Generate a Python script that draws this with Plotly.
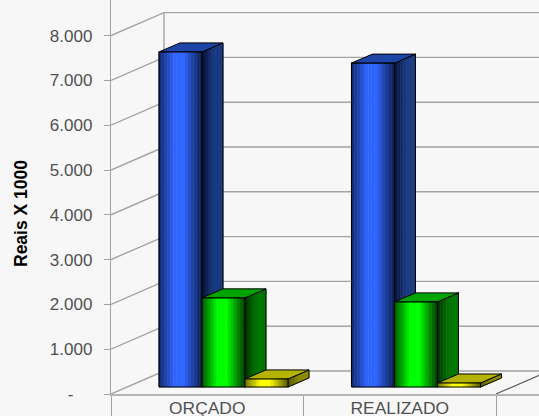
import plotly.graph_objects as go

categories = ["ORÇADO", "REALIZADO"]
series_blue = [7480, 7230]
series_green = [1990, 1900]
series_yellow = [180, 90]
y_ticks = [0, 1000, 2000, 3000, 4000, 5000, 6000, 7000, 8000]
y_labels = ["-\u00a0\u00a0\u00a0\u00a0", "1.000", "2.000", "3.000", "4.000", "5.000", "6.000", "7.000", "8.000"]

PX_X = 192.5      # px per category
PX_Y = 0.0448     # px per unit
XMAX = 428 / PX_X
WALL_DX, WALL_DY = 53 / PX_X, 23 / PX_Y
BAR_DX, BAR_DY = 21 / PX_X, 9 / PX_Y
BAR_W = 43 / PX_X
BAR_OFF = 48 / PX_X
FLOOR = 7 / PX_Y
GRID = "#a3a3a3"

STYLES = [
    dict(values=series_blue, edge=(10, 30, 80), mid=(48, 100, 255), top="#1d45a8",
         side_a=(6, 16, 50), side_b=(26, 58, 130)),
    dict(values=series_green, edge=(0, 60, 0), mid=(0, 255, 0), top="#00a400",
         side_a=(0, 50, 0), side_b=(0, 118, 0)),
    dict(values=series_yellow, edge=(90, 90, 0), mid=(255, 255, 0), top="#b4b400",
         side_a=(90, 90, 0), side_b=(140, 140, 0)),
]


def mix(a, b, t):
    return "rgb(%d,%d,%d)" % tuple(round(a[i] + (b[i] - a[i]) * t) for i in range(3))


fig = go.Figure()


def poly(xs, ys, fill, line=None, lw=1.0):
    fig.add_trace(go.Scatter(
        x=xs, y=ys, mode="lines", fill="toself", fillcolor=fill,
        line=dict(color=line or fill, width=lw if line else 0.6),
        hoverinfo="skip", showlegend=False))


def line(xs, ys, color=GRID, width=1.4):
    fig.add_trace(go.Scatter(x=xs, y=ys, mode="lines", line=dict(color=color, width=width),
                             hoverinfo="skip", showlegend=False))


# walls
for v in y_ticks:
    line([0, WALL_DX, XMAX], [v, v + WALL_DY, v + WALL_DY])
line([WALL_DX, WALL_DX], [WALL_DY, y_ticks[-1] + WALL_DY])
line([len(categories), len(categories) + WALL_DX], [0, WALL_DY], "#555555", 1.1)

# bars
STEPS = 15
SIDE_STEPS = 7
for c in range(len(categories)):
    for s, st in enumerate(STYLES):
        v = st["values"][c]
        x0 = c + BAR_OFF + s * BAR_W
        x1 = x0 + BAR_W
        y0, y1 = FLOOR, FLOOR + v
        # side face
        for i in range(SIDE_STEPS):
            a = BAR_DX * i / SIDE_STEPS
            b = BAR_DX * (i + 1) / SIDE_STEPS
            ya, yb = BAR_DY * i / SIDE_STEPS, BAR_DY * (i + 1) / SIDE_STEPS
            t = min(1, (i + 0.5) / (SIDE_STEPS * 0.55))
            poly([x1 + a, x1 + b, x1 + b, x1 + a, x1 + a],
                 [y0 + ya, y0 + yb, y1 + yb, y1 + ya, y0 + ya],
                 mix(st["side_a"], st["side_b"], t))
        poly([x1, x1 + BAR_DX, x1 + BAR_DX, x1, x1],
             [y0, y0 + BAR_DY, y1 + BAR_DY, y1, y0], "rgba(0,0,0,0)", "#000000", 1.0)
        # top face
        poly([x0, x1, x1 + BAR_DX, x0 + BAR_DX, x0],
             [y1, y1, y1 + BAR_DY, y1 + BAR_DY, y1], st["top"], "#000000", 1.0)
        # front face
        for i in range(STEPS):
            a = x0 + BAR_W * i / STEPS
            b = x0 + BAR_W * (i + 1) / STEPS
            t = 1 - abs((i + 0.5) / STEPS - 0.47) / 0.53
            poly([a, b, b, a, a], [y0, y0, y1, y1, y0], mix(st["edge"], st["mid"], min(1, t * 1.25)))
        poly([x0, x1, x1, x0, x0], [y0, y0, y1, y1, y0], "rgba(0,0,0,0)", "#000000", 1.1)

fig.update_layout(
    width=539, height=416, autosize=False,
    margin=dict(l=111, r=0, t=0, b=22, pad=0),
    paper_bgcolor="#f7f7f7", plot_bgcolor="#f7f7f7",
    showlegend=False,
    font=dict(family="Liberation Sans, Arial, sans-serif", size=17, color="#505050"),
    xaxis=dict(
        automargin=False,
        range=[0, XMAX], showgrid=False, zeroline=False,
        tickmode="array", tickvals=[c + 0.5 for c in range(len(categories))], ticktext=categories,
        ticks="", showline=True, linecolor="#b5b5b5", linewidth=2,
        tickfont=dict(size=17.4), ticklabelstandoff=-3,
        minor=dict(tickmode="array", tickvals=list(range(len(categories) + 1)), ticks="outside",
                   ticklen=23, tickcolor=GRID, tickwidth=1.4),
    ),
    yaxis=dict(
        automargin=False,
        range=[0, 394 / PX_Y], showgrid=False, zeroline=False,
        tickmode="array", tickvals=y_ticks, ticktext=y_labels,
        ticks="outside", ticklen=6, tickcolor=GRID, tickwidth=1.4,
        showline=True, linecolor=GRID, linewidth=1.4,
        ticklabelstandoff=8,
    ),
    annotations=[dict(
        text="<b>Reais X 1000</b>", textangle=-90, showarrow=False,
        xref="paper", yref="paper", x=0, y=(394 - 214) / 394, xshift=-102,
        font=dict(size=17.5, color="#000000"),
    )],
)

fig.write_html("out.html", config={"displayModeBar": False},
               post_script="document.body.style.margin='0';document.body.style.background='#f7f7f7';document.body.style.overflow='hidden';")
